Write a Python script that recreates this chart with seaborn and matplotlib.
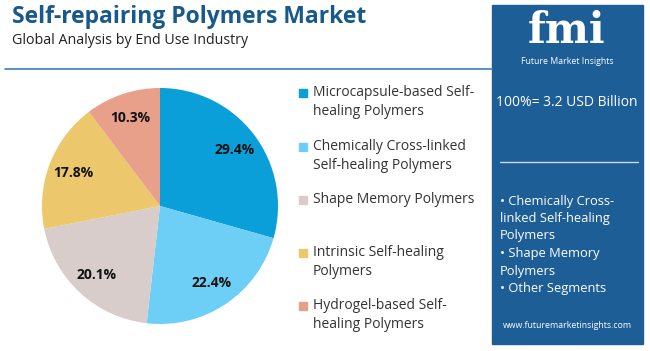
import matplotlib
matplotlib.use("Agg")
import matplotlib.pyplot as plt
import seaborn as sns
from matplotlib.patches import Rectangle
from matplotlib.lines import Line2D

segments = [
    "Microcapsule-based Self-\nhealing Polymers",
    "Chemically Cross-linked\nSelf-healing Polymers",
    "Shape Memory Polymers",
    "Intrinsic Self-healing\nPolymers",
    "Hydrogel-based Self-\nhealing Polymers",
]
shares = [29.4, 22.4, 20.1, 17.8, 10.3]
colors = ["#0a9fd9", "#6dcff5", "#d8cdca", "#ecc76b", "#e9a08a"]
legend_y = [93, 147, 200, 253, 306]

panel_total = "100%= 3.2 USD Billion"
panel_bullets = [
    "• Chemically Cross-",
    "linked Self-healing",
    "Polymers",
    "• Shape Memory",
    "Polymers",
    "• Other Segments",
]

sns.set_theme(style="white")
plt.rcParams["font.family"] = ["Open Sans", "DejaVu Sans"]

W, H = 650, 351
fig = plt.figure(figsize=(W / 100, H / 100), dpi=100)
fig.patch.set_facecolor("white")


def fx(x):
    return x / W


def fy(y):
    return 1 - y / H


# header
fig.text(fx(12), fy(17), "Self-repairing Polymers Market", fontsize=16.5,
         fontweight="bold", color="#17598c", va="center", ha="left")
fig.text(fx(12), fy(40), "Global Analysis by End Use Industry", fontsize=10.3,
         color="#222222", va="center", ha="left")
fig.add_artist(Line2D([fx(5), fx(492)], [fy(69), fy(69)], color="#3a7fb5",
                      lw=1.2, transform=fig.transFigure))

# pie
cx, cy, r = 160, 206, 118
ax = fig.add_axes([fx(cx - r), fy(cy + r), 2 * r / W, 2 * r / H])
wedges, _, autotexts = ax.pie(
    shares, colors=colors, startangle=90, counterclock=False,
    autopct="%1.1f%%", pctdistance=0.79,
    wedgeprops=dict(linewidth=0),
    textprops=dict(fontsize=10, fontweight="bold", color="#111111"),
)
ax.set_xlim(-1, 1)
ax.set_ylim(-1, 1)
ax.set_aspect("auto")
ax.axis("off")

# legend
for label, c, y in zip(segments, colors, legend_y):
    fig.add_artist(Rectangle((fx(299), fy(y + 4)), 8 / W, 8 / H,
                             color=c, transform=fig.transFigure))
    fig.text(fx(313), fy(y - 8), label, fontsize=10, color="#333333",
             va="top", ha="left", linespacing=1.4)

# right panel
fig.add_artist(Rectangle((fx(492), fy(344)), 151 / W, 339 / H,
                         color="#1d5e97", transform=fig.transFigure))
fig.text(fx(567), fy(31), "fmi", fontsize=30, fontweight="bold",
         family=["DejaVu Serif"], color="white", ha="center", va="center")
fig.text(fx(567), fy(62), "Future Market Insights", fontsize=6.3,
         color="white", ha="center", va="center")
fig.text(fx(567), fy(102), panel_total, fontsize=10, color="white",
         ha="center", va="center")
fig.add_artist(Line2D([fx(500), fx(638)], [fy(162), fy(162)], color="#c9d9e8",
                      lw=1, transform=fig.transFigure))
for i, line in enumerate(panel_bullets):
    fig.text(fx(500), fy(201 + i * 17.5), line, fontsize=9.3, color="white",
             ha="left", va="center")
fig.text(fx(567), fy(325), "www.futuremarketinsights.com", fontsize=6.3,
         color="white", ha="center", va="center")

fig.savefig("out.png", dpi=100)
